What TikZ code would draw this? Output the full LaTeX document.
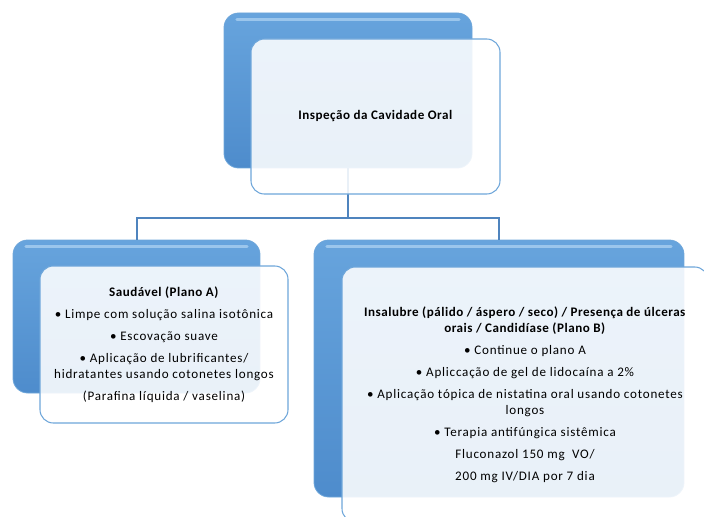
\documentclass[tikz,border=0pt]{standalone}
\usepackage{fontspec}
\setmainfont{Carlito}[LetterSpace=6, BoldFeatures={LetterSpace=4}]
\definecolor{cardtop}{HTML}{67A4DD}
\definecolor{cardbot}{HTML}{4E8CCC}
\definecolor{cardedge}{HTML}{6EA6DA}
\definecolor{cardgloss}{HTML}{A9CFF0}
\definecolor{linkblue}{HTML}{4F84BE}
\begin{document}
\begin{tikzpicture}[x=0.75pt, y=-0.75pt,
  backcard/.style={rounded corners=11pt, inner sep=0pt, draw=cardedge, line width=0.6pt,
    top color=cardtop, bottom color=cardbot},
  frontcard/.style={rounded corners=10pt, inner sep=0pt, draw=cardedge, line width=0.8pt,
    fill=white, fill opacity=0.88, text opacity=1, align=center,
    font=\fontsize{9.8}{12}\selectfont},
  link/.style={draw=linkblue, line width=1.5pt}]
  \useasboundingbox (0,0) rectangle (704,517);
  \clip (0,0) rectangle (704,517);

  \node[backcard, minimum width=186pt, minimum height=116.25pt] (topback) at (348, 90.5) {};
  \node[backcard, minimum width=185.25pt, minimum height=114.75pt] (leftback) at (136.5, 316.5) {};
  \node[backcard, minimum width=277.5pt, minimum height=192.75pt] (rightback) at (499, 368.5) {};

  \foreach \card in {topback, leftback, rightback}
    \draw[cardgloss, opacity=0.8, line width=2.5pt, line cap=round]
      ([xshift=10pt, yshift=-5pt]\card.north west) -- ([xshift=-10pt, yshift=-5pt]\card.north east);

  \coordinate (bus) at (348, 218);
  \draw[link] (topback.south) -- (topback.south |- bus) -| (leftback.north);
  \draw[link] (topback.south |- bus) -| (rightback.north);

  \node[frontcard, minimum width=186.75pt, minimum height=116.25pt] (topfront) at (375.5, 116.5)
    {\textbf{Inspeção da Cavidade Oral}};

  \node[frontcard, minimum width=186pt, minimum height=117.75pt] (leftfront) at (164, 344.5)
    {\textbf{Saudável (Plano A)}\\[4.5pt]
     • Limpe com solução salina isotônica\\[4.5pt]
     • Escovação suave\\[4.5pt]
     • Aplicação de lubrificantes/\\
     hidratantes usando cotonetes longos\\[4.5pt]
     (Parafina líquida / vaselina)};

  \node[frontcard, minimum width=274.5pt, minimum height=191.25pt] (rightfront) at (525, 394.5)
    {\textbf{Insalubre (pálido / áspero / seco) / Presença de úlceras}\\
     \textbf{orais / Candidíase (Plano B)}\\[4.5pt]
     • Continue o plano A\\[4.5pt]
     • Apliccação de gel de lidocaína a 2\%\\[4.5pt]
     • Aplicação tópica de nistatina oral usando cotonetes\\
     longos\\[4.5pt]
     • Terapia antifúngica sistêmica\\[4.5pt]
     Fluconazol 150 mg\ \ VO/\\[4.5pt]
     200 mg IV/DIA por 7 dia};
\end{tikzpicture}
\end{document}
